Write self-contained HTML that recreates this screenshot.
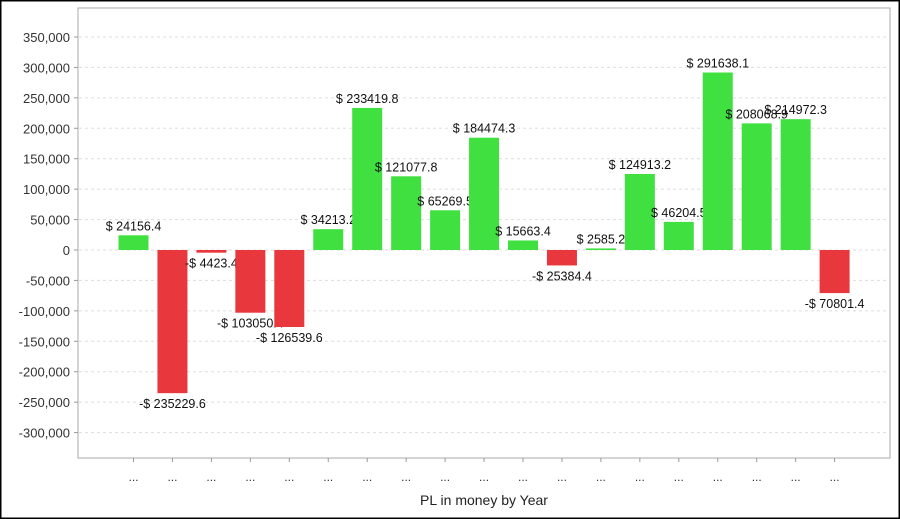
<!DOCTYPE html>
<html><head><meta charset="utf-8"><style>
body{margin:0;background:#fff;}
#wrap{position:relative;width:900px;height:519px;overflow:hidden;}
svg text{font-family:"Liberation Sans",sans-serif;}
</style></head><body>
<div id="wrap">
<svg id="chart" width="900" height="519">
<rect x="0.5" y="0.5" width="899" height="518" fill="#fff" stroke="#000" stroke-width="2"/>
<rect x="78" y="8" width="812" height="450" fill="#fff" stroke="#aaa" stroke-width="1"/>
<g id="grid"></g>
<g id="bars"></g>
<g id="yaxis"></g>
<g id="xaxis"></g>
<text x="484" y="505" text-anchor="middle" font-size="14" fill="#222">PL in money by Year</text>
</svg>
</div>
<script>
const values=[24156.4,-235229.6,-4423.4,-103050.4,-126539.6,34213.2,233419.8,121077.8,65269.5,184474.3,15663.4,-25384.4,2585.2,124913.2,46204.5,291638.1,208068.9,214972.3,-70801.4];
const labels=["$ 24156.4","-$ 235229.6","-$ 4423.4","-$ 103050.4","-$ 126539.6","$ 34213.2","$ 233419.8","$ 121077.8","$ 65269.5","$ 184474.3","$ 15663.4","-$ 25384.4","$ 2585.2","$ 124913.2","$ 46204.5","$ 291638.1","$ 208068.9","$ 214972.3","-$ 70801.4"];
const yTicks=[350000,300000,250000,200000,150000,100000,50000,0,-50000,-100000,-150000,-200000,-250000,-300000];
const yTickLabels=["350,000","300,000","250,000","200,000","150,000","100,000","50,000","0","-50,000","-100,000","-150,000","-200,000","-250,000","-300,000"];
const NS="http://www.w3.org/2000/svg";
function y(v){return 250 - v*30.43/50000;}
function x(i){return 133.5 + i*38.95;}
function mk(t,a,p){const e=document.createElementNS(NS,t);for(const k in a)e.setAttribute(k,a[k]);p.appendChild(e);return e;}
const grid=document.getElementById('grid'),ya=document.getElementById('yaxis'),xa=document.getElementById('xaxis'),bars=document.getElementById('bars');
yTicks.forEach((v,i)=>{
  const g=mk('line',{x1:79,x2:889,y1:y(v),y2:y(v),stroke:'#ddd','stroke-dasharray':'3,3'},grid);
  
  
  const tk=mk('line',{x1:74,x2:78,y1:y(v),y2:y(v),stroke:'#999'},ya);
  
  
  const t=mk('text',{x:70,y:y(v)+5,'text-anchor':'end','font-size':13,fill:'#333'},ya);
  t.textContent=yTickLabels[i];
  
  
});
values.forEach((v,i)=>{
  const cx=x(i),top=Math.min(y(v),y(0)),h=Math.abs(y(v)-y(0));
  const r=mk('rect',{x:cx-15,y:top,width:30,height:Math.max(h,1),fill:v>=0?'#3fe03f':'#e8383d'},bars);
  
  
  const t=mk('text',{x:cx,y:v>=0?y(v)-5:y(v)+15,'text-anchor':'middle','font-size':12.5,fill:'#111'},bars);
  t.textContent=labels[i];
  
  
  const tk=mk('line',{x1:cx,x2:cx,y1:458,y2:462,stroke:'#999'},xa);
  
  
  const xl=mk('text',{x:cx,y:481,'text-anchor':'middle','font-size':12,fill:'#333'},xa);
  xl.textContent='...';
  
  
});
</script>
</body></html>
